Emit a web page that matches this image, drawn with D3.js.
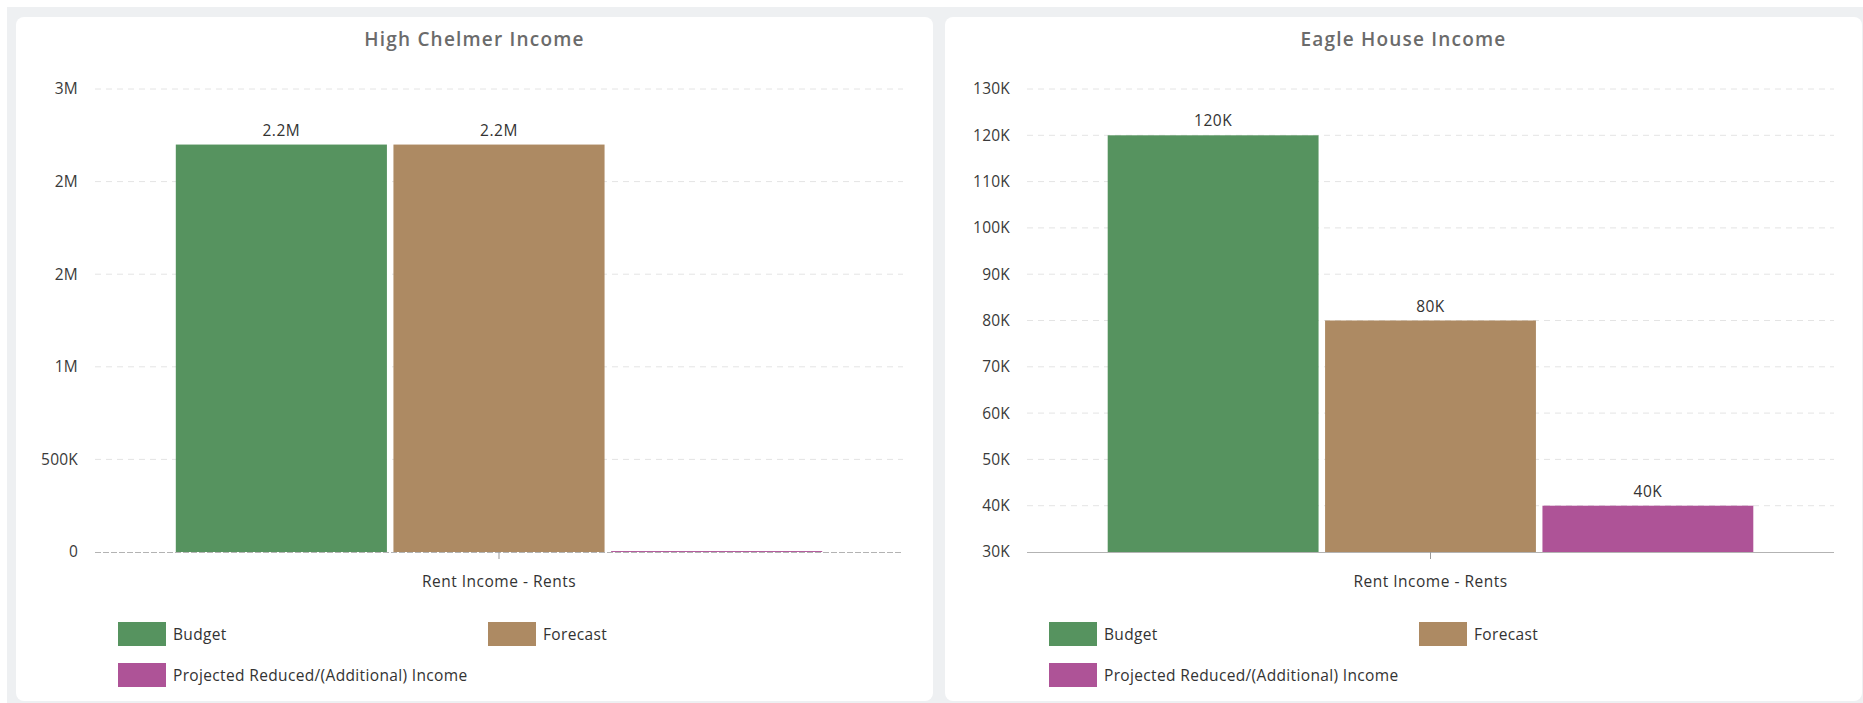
<!DOCTYPE html>
<html>
<head>
<meta charset="utf-8">
<script src="https://cdn.jsdelivr.net/npm/d3@7"></script>
<style>
  html, body { margin: 0; padding: 0; background: #ffffff; }
  svg { display: block; font-family: "Open Sans", "Noto Sans", sans-serif; }
</style>
</head>
<body>
<svg id="chart" width="1863" height="703"></svg>
<script>
// Series shared by both income panels
const seriesNames = ["Budget", "Forecast", "Projected Reduced/(Additional) Income"];
const seriesColors = ["#56935f", "#ad8a63", "#ae5397"];
const categories = ["Rent Income - Rents"];

// High Chelmer panel
const chelmerTitle = "High Chelmer Income";
const chelmerValues = [2200000, 2200000, 5000];
const chelmerTicks = [0, 500000, 1000000, 1500000, 2000000, 2500000];
const chelmerTickLabels = ["0", "500K", "1M", "2M", "2M", "3M"];

// Eagle House panel
const eagleTitle = "Eagle House Income";
const eagleValues = [120000, 80000, 40000];
const eagleTicks = [30000, 40000, 50000, 60000, 70000, 80000, 90000, 100000, 110000, 120000, 130000];
const eagleTickLabels = ["30K", "40K", "50K", "60K", "70K", "80K", "90K", "100K", "110K", "120K", "130K"];

const svg = d3.select("#chart");

// dashboard background
svg.append("rect").attr("x", 7).attr("y", 7).attr("width", 1856).attr("height", 696).attr("fill", "#eef0f2");

function valueLabel(v) {
  if (Math.abs(v) >= 1e6) return d3.format(".1f")(v / 1e6).replace(/\.0$/, "") + "M";
  if (Math.abs(v) >= 1e3) return d3.format(".1f")(v / 1e3).replace(/\.0$/, "") + "K";
  return String(v);
}

function drawPanel(opts) {
  const g = svg.append("g");
  // card
  g.append("rect")
    .attr("x", opts.cardX).attr("y", 17)
    .attr("width", 917).attr("height", 684)
    .attr("rx", 8).attr("ry", 8)
    .attr("fill", "#ffffff");

  g.append("text")
    .attr("x", opts.cardX + 917 / 2).attr("y", 46)
    .attr("text-anchor", "middle")
    .attr("font-size", 19).attr("font-weight", 600)
    .attr("letter-spacing", 1.2)
    .attr("fill", "#6b6b6b")
    .text(opts.title);

  const y = d3.scaleLinear().domain([opts.ticks[0], opts.ticks[opts.ticks.length - 1]]).range([552, 89]);
  const x0 = d3.scaleBand().domain(categories).range([opts.plotX0, opts.plotX1]).paddingInner(0.2).paddingOuter(0.1);
  const x1 = d3.scaleBand().domain(seriesNames).range([0, x0.bandwidth()]).paddingInner(0.03);

  // horizontal gridlines
  g.selectAll(".grid").data(opts.ticks.slice(1)).enter().append("line")
    .attr("x1", opts.plotX0).attr("x2", opts.plotX1)
    .attr("y1", d => y(d)).attr("y2", d => y(d))
    .attr("stroke", "#e4e4e4").attr("stroke-width", 1)
    .attr("stroke-dasharray", "6,5");

  // y tick labels
  g.selectAll(".ytick").data(opts.ticks).enter().append("text")
    .attr("x", opts.labelRight).attr("y", d => y(d))
    .attr("dy", "0.35em")
    .attr("text-anchor", "end")
    .attr("font-size", 15.5).attr("letter-spacing", 0.2).attr("fill", "#3a3a3a")
    .text((d, i) => opts.tickLabels[i]);

  // bars
  const base = y.domain()[0];
  categories.forEach(cat => {
    const grp = g.append("g").attr("transform", `translate(${x0(cat)},0)`);
    grp.selectAll("rect").data(opts.values).enter().append("rect")
      .attr("x", (d, i) => x1(seriesNames[i]))
      .attr("width", x1.bandwidth())
      .attr("y", d => y(Math.max(d, base)))
      .attr("height", d => Math.abs(y(base) - y(d)))
      .attr("fill", (d, i) => seriesColors[i]);
    opts.values.forEach((d, i) => {
      if (Math.abs(y(base) - y(d)) < 3) return;
      grp.append("text")
        .attr("x", x1(seriesNames[i]) + x1.bandwidth() / 2)
        .attr("y", y(d) - 9)
        .attr("text-anchor", "middle")
        .attr("font-size", 15.5).attr("letter-spacing", 0.5).attr("fill", "#333")
        .text(valueLabel(d));
    });
  });

  // x axis baseline
  g.append("line")
    .attr("x1", opts.plotX0).attr("x2", opts.plotX1)
    .attr("y1", 552.5).attr("y2", 552.5)
    .attr("stroke", "#9a9a9a").attr("stroke-opacity", 0.75).attr("stroke-width", 1)
    .attr("stroke-dasharray", opts.dashedBase ? "6,2" : null);

  // category tick and label
  categories.forEach(cat => {
    const cx = x0(cat) + x0.bandwidth() / 2;
    g.append("line").attr("x1", cx).attr("x2", cx).attr("y1", 552).attr("y2", 559)
      .attr("stroke", "#999").attr("stroke-width", 1);
    g.append("text").attr("x", cx).attr("y", 582).attr("dy", "0.35em")
      .attr("text-anchor", "middle").attr("font-size", 15.5).attr("letter-spacing", 0.5).attr("fill", "#333")
      .text(cat);
  });

  // legend
  const legendPos = [[0, 0], [370, 0], [0, 41]];
  seriesNames.forEach((name, i) => {
    const lx = opts.cardX + opts.legendX + legendPos[i][0];
    const ly = 622 + legendPos[i][1];
    g.append("rect").attr("x", lx).attr("y", ly).attr("width", 48).attr("height", 24)
      .attr("fill", seriesColors[i]);
    g.append("text").attr("x", lx + 55).attr("y", ly + 13).attr("dy", "0.35em")
      .attr("font-size", 15.5).attr("letter-spacing", 0.35).attr("fill", "#333").text(name);
  });
}

drawPanel({
  cardX: 16, title: chelmerTitle, values: chelmerValues,
  ticks: chelmerTicks, tickLabels: chelmerTickLabels,
  plotX0: 95, plotX1: 903, labelRight: 78, legendX: 102, dashedBase: true
});
drawPanel({
  cardX: 945, title: eagleTitle, values: eagleValues,
  ticks: eagleTicks, tickLabels: eagleTickLabels,
  plotX0: 1027, plotX1: 1834, labelRight: 1010, legendX: 104, dashedBase: false
});
</script>
</body>
</html>
